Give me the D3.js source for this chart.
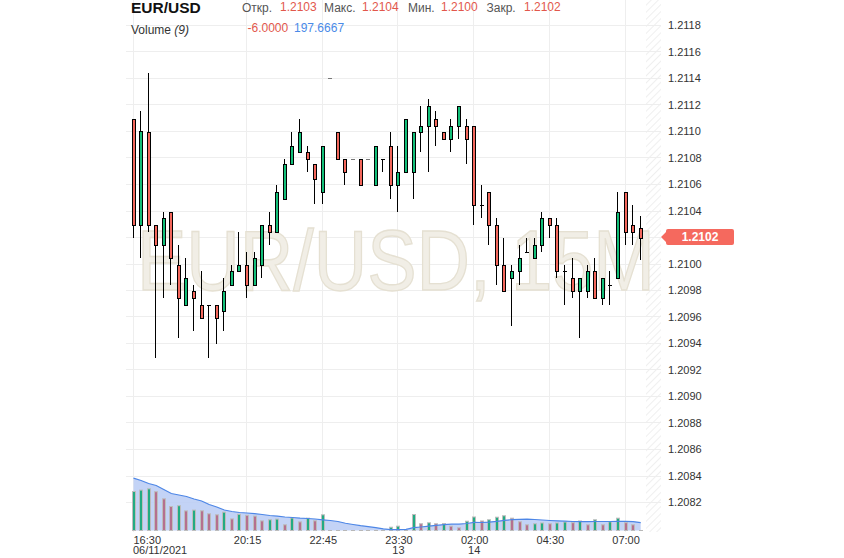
<!DOCTYPE html>
<html><head><meta charset="utf-8">
<script src="https://cdn.jsdelivr.net/npm/d3@7"></script>
<style>
body{margin:0;background:#fff;}
svg{display:block;font-family:Arial,"Liberation Sans",sans-serif;}
</style>
</head><body>
<svg id="c" width="844" height="558"></svg>
<script>
// ---------- data ----------
const opens = [1.21109,1.21029,1.21099,1.21029,1.21014,1.21039,1.20999,1.20969,1.20979,1.20969,
1.20969,1.20969,1.20964,1.20984,1.20994,1.20999,1.20984,1.20999,1.21029,1.21024,
1.21049,1.21075,1.21084,1.21084,1.21075,1.21054,1.21140,1.21099,1.21079,1.21079,
1.21079,1.21079,1.21059,1.21079,1.21089,1.21059,1.21069,1.21069,1.21099,1.21104,
1.21109,1.21099,1.21094,1.21104,1.21104,1.21104,1.21044,1.21054,1.21029,1.20999,
1.20989,1.20994,1.21009,1.21004,1.21014,1.21034,1.21029,1.20994,1.20989,1.20979,
1.20979,1.20994,1.20974,1.20984,1.20989,1.21054,1.21029,1.21027];
const highs = [1.21109,1.21115,1.21144,1.21029,1.21039,1.21039,1.21014,1.21004,1.20984,1.20994,
1.20969,1.20969,1.20989,1.20999,1.21024,1.21009,1.21009,1.21029,1.21039,1.21059,
1.21079,1.21099,1.21109,1.21089,1.21075,1.21089,1.21140,1.21099,1.21079,1.21079,
1.21079,1.21079,1.21089,1.21079,1.21099,1.21089,1.21109,1.21099,1.21119,1.21124,
1.21115,1.21099,1.21109,1.21119,1.21109,1.21104,1.21059,1.21054,1.21034,1.21019,
1.20999,1.21014,1.21019,1.21019,1.21039,1.21034,1.21034,1.20999,1.21004,1.20989,
1.20999,1.21004,1.20989,1.20994,1.21054,1.21054,1.21044,1.21036];
const lows = [1.21019,1.21004,1.21024,1.20929,1.20974,1.20984,1.20944,1.20969,1.20949,1.20959,
1.20929,1.20939,1.20949,1.20984,1.20994,1.20974,1.20984,1.20989,1.21014,1.21024,
1.21049,1.21075,1.21084,1.21069,1.21045,1.21045,1.21140,1.21079,1.21059,1.21079,
1.21059,1.21079,1.21059,1.21069,1.21049,1.21039,1.21069,1.21049,1.21084,1.21069,
1.21089,1.21094,1.21084,1.21094,1.21075,1.21029,1.21034,1.21014,1.20984,1.20979,
1.20953,1.20984,1.21009,1.21004,1.21009,1.21019,1.20989,1.20969,1.20974,1.20944,
1.20974,1.20974,1.20969,1.20969,1.20989,1.21014,1.21014,1.21003];
const closes = [1.21029,1.21100,1.21029,1.21014,1.21034,1.21004,1.20974,1.20989,1.20974,1.20959,
1.20969,1.20959,1.20979,1.20994,1.20999,1.20984,1.21004,1.21029,1.21024,1.21054,
1.21075,1.21089,1.21099,1.21079,1.21064,1.21089,1.21140,1.21079,1.21069,1.21079,
1.21059,1.21079,1.21089,1.21079,1.21059,1.21069,1.21109,1.21099,1.21104,1.21119,
1.21104,1.21094,1.21104,1.21119,1.21094,1.21044,1.21044,1.21029,1.20999,1.20979,
1.20994,1.21004,1.21009,1.21014,1.21034,1.21029,1.20994,1.20994,1.20979,1.20989,
1.20994,1.20974,1.20989,1.20984,1.21039,1.21024,1.21024,1.21019];
const volumes = [975,1010,1042,970,792,600,620,490,510,492,
418,392,458,290,405,380,360,240,268,285,
142,312,215,308,242,392,5,5,5,5,
5,5,5,5,82,108,32,400,168,192,
168,175,108,68,232,338,238,268,332,368,
308,218,142,168,188,168,188,212,195,238,
142,268,142,218,308,195,142,8];
const volumeMA = [1308,1250,1175,1125,1025,925,888,850,788,738,
650,588,512,475,450,438,420,400,375,358,
338,325,308,300,288,268,250,225,182,150,
120,95,70,42,20,22,28,70,88,110,
128,148,158,158,175,205,200,210,230,255,
270,280,282,275,262,250,242,232,225,222,
220,225,225,225,228,228,222,198];
const tickIndex = [0,15,25,35,45,55,65];
const tickTimes = ["16:30","20:15","22:45","23:30","02:00","04:30","07:00"];
const tickDates = ["06/11/2021","","","13","14","",""];
const priceTicks = [1.2082,1.2084,1.2086,1.2088,1.2090,1.2092,1.2094,1.2096,1.2098,1.2100,
1.2102,1.2104,1.2106,1.2108,1.2110,1.2112,1.2114,1.2116,1.2118];
const lastPrice = 1.2102;
const header = {symbol:"EUR/USD", open:"1.2103", high:"1.2104", low:"1.2100", close:"1.2102",
  volTitle:"Volume", volPeriod:"(9)", volChange:"-6.0000", volAvg:"197.6667"};

// ---------- layout ----------
const svg = d3.select("#c");
const plotL = 126, plotR = 661, plotB = 532, hatchL = 646;
const x = d3.scaleLinear().domain([0, opens.length - 1]).range([133.5, 640.7]);
const y = d3.scaleLinear().domain([1.2082, 1.2118]).range([502, 25]);
const yv = d3.scaleLinear().domain([0, 1500]).range([530.5, 470.5]);

const GREEN = "#13bf79", RED = "#f3675c";
const VGREEN = "#22ab83", VRED = "#b5708f";

// hatch pattern
const defs = svg.append("defs");
const pat = defs.append("pattern").attr("id","hatch").attr("patternUnits","userSpaceOnUse")
  .attr("width",5).attr("height",5).attr("patternTransform","rotate(45)");
pat.append("line").attr("x1",0).attr("y1",0).attr("x2",0).attr("y2",5)
  .attr("stroke","#ebebeb").attr("stroke-width",1.6);
svg.append("rect").attr("x",hatchL).attr("y",0).attr("width",plotR-hatchL).attr("height",plotB)
  .attr("fill","url(#hatch)");

// grid
const grid = svg.append("g").attr("stroke","#eeeeee").attr("stroke-width",1);
grid.selectAll("line.h").data(priceTicks).join("line").attr("class","h")
  .attr("x1",plotL).attr("x2",plotR)
  .attr("y1",d=>Math.round(y(d))+0.5).attr("y2",d=>Math.round(y(d))+0.5);
grid.selectAll("line.v").data(tickIndex).join("line").attr("class","v")
  .attr("x1",d=>Math.round(x(d))-0.5).attr("x2",d=>Math.round(x(d))-0.5)
  .attr("y1",0).attr("y2",plotB);

// watermark (natural width ~ target width, stretched vertically)
svg.append("text").attr("transform","translate(137,290) scale(1,1.16)")
  .attr("font-size",74).attr("textLength",518).attr("lengthAdjust","spacingAndGlyphs")
  .attr("fill","#f1eee6").attr("stroke","#e5e0d2").attr("stroke-width",1.2)
  .text("EUR/USD, 15M");

// volume MA area
const idx = d3.range(volumes.length);
svg.append("path").datum(idx)
  .attr("d", d3.area().x(i=>x(i)).y0(yv(0)).y1(i=>yv(volumeMA[i])))
  .attr("fill","#b8cbf4").attr("fill-opacity",0.85);

// volume bars
const vg = svg.append("g");
idx.forEach(i => {
  const v = volumes[i];
  const L = Math.round(x(i)) - 2;
  const top = yv(v), h = yv(0) - top;
  if (h < 1.5) {
    vg.append("line").attr("x1",L).attr("x2",L+4)
      .attr("y1",Math.round(yv(0))-0.5).attr("y2",Math.round(yv(0))-0.5)
      .attr("stroke","#b8b8b8").attr("stroke-width",1);
  } else {
    const up = i === 0 || v > volumes[i-1];
    vg.append("rect").attr("x",L+0.5).attr("y",top).attr("width",3).attr("height",h)
      .attr("fill", up ? VGREEN : VRED).attr("stroke","#bdbdbd").attr("stroke-width",1);
  }
});
svg.append("path").datum(idx)
  .attr("d", d3.line().x(i=>x(i)).y(i=>yv(volumeMA[i])))
  .attr("fill","none").attr("stroke","#4d86e6").attr("stroke-width",1.2);

// candles
const cg = svg.append("g");
idx.forEach(i => {
  const o = opens[i], h = highs[i], l = lows[i], c = closes[i];
  const L = Math.round(x(i)) - 2;
  const yH = Math.round(y(h)), yL = Math.round(y(l));
  const flat = (h === l);
  if (o === c) {
    const yc = Math.round(y(o)) + 0.5;
    if (yL > yH) cg.append("line").attr("x1",L+1.5).attr("x2",L+1.5).attr("y1",yH).attr("y2",yL)
      .attr("stroke","#000").attr("stroke-width",1);
    cg.append("line").attr("x1",L).attr("x2",L+4).attr("y1",yc).attr("y2",yc)
      .attr("stroke", flat ? "#777" : "#000").attr("stroke-width",1);
    return;
  }
  cg.append("line").attr("x1",L+1.5).attr("x2",L+1.5).attr("y1",yH).attr("y2",yL)
    .attr("stroke","#000").attr("stroke-width",1);
  const yt = Math.round(y(Math.max(o,c))) + 0.5, yb = Math.round(y(Math.min(o,c))) + 0.5;
  cg.append("rect").attr("x",L+0.5).attr("y",yt).attr("width",3).attr("height",Math.max(1,yb-yt))
    .attr("fill", c > o ? GREEN : RED).attr("stroke","#000").attr("stroke-width",1);
});

// y axis (the tick at the current price is covered by the price label)
const axisTicks = priceTicks.filter(d => Math.abs(d - lastPrice) > 1e-6);
const ya = svg.append("g").attr("transform","translate(668,0)")
  .call(d3.axisRight(y).tickValues(axisTicks).tickFormat(d3.format(".4f")).tickSize(0).tickPadding(0));
ya.select(".domain").remove();
ya.selectAll("text").attr("font-size",11).attr("fill","#333")
  .attr("font-family","Arial, 'Liberation Sans', sans-serif").attr("dy","0.35em");

// current price label
const yp = y(lastPrice);
svg.append("path")
  .attr("d", `M661,${yp} L666,${yp-5} L666,${yp-6} Q666,${yp-8} 668,${yp-8} L732,${yp-8} Q734,${yp-8} 734,${yp-6} L734,${yp+6} Q734,${yp+8} 732,${yp+8} L668,${yp+8} Q666,${yp+8} 666,${yp+6} L666,${yp+5} Z`)
  .attr("fill","#f5695e");
svg.append("text").attr("x",700).attr("y",yp).attr("dy","0.36em").attr("text-anchor","middle")
  .attr("font-size",12).attr("font-weight","bold").attr("fill","#fff").text(lastPrice.toFixed(4));

// x axis
const xa = svg.append("g").attr("transform",`translate(0,${plotB})`)
  .call(d3.axisBottom(x).tickValues(tickIndex).tickFormat((d,i)=>tickTimes[i]).tickSize(0).tickPadding(3.7));
xa.select(".domain").remove();
xa.selectAll("text").attr("font-size",11).attr("fill","#333")
  .attr("font-family","Arial, 'Liberation Sans', sans-serif")
  .attr("text-anchor",(d,i)=> i===0 ? "start" : "middle")
  .attr("dx",(d,i)=> i===0 ? "-0.5" : "0");
svg.append("g").selectAll("text").data(tickIndex).join("text")
  .attr("x",(d,i)=> i===0 ? x(d)-0.5 : x(d)).attr("y",554)
  .attr("text-anchor",(d,i)=> i===0 ? "start" : "middle")
  .attr("font-size",11).attr("fill","#333").text((d,i)=>tickDates[i]);

// header
svg.append("text").attr("x",131).attr("y",13).attr("font-size",15.5).attr("font-weight","bold")
  .attr("fill","#111").text(header.symbol);
const hdr = [["Откр.",242,"lab"],[header.open,280,"val"],["Макс.",324,"lab"],[header.high,362,"val"],
  ["Мин.",408,"lab"],[header.low,441,"val"],["Закр.",486.5,"lab"],[header.close,524,"val"]];
hdr.forEach(([t,xx,k]) => svg.append("text").attr("x",xx).attr("y", k==="lab" ? 12 : 10.5)
  .attr("font-size",12).attr("fill", k==="lab" ? "#555" : "#e2574c").text(t));
const vt = svg.append("text").attr("x",131).attr("y",34).attr("font-size",12).attr("fill","#333");
vt.append("tspan").text(header.volTitle + " ");
vt.append("tspan").attr("font-style","italic").text(header.volPeriod);
svg.append("text").attr("x",247.5).attr("y",31.5).attr("font-size",12).attr("fill","#e2574c").text(header.volChange);
svg.append("text").attr("x",294).attr("y",31.5).attr("font-size",12).attr("fill","#4a8ae8").text(header.volAvg);
</script>
</body></html>
